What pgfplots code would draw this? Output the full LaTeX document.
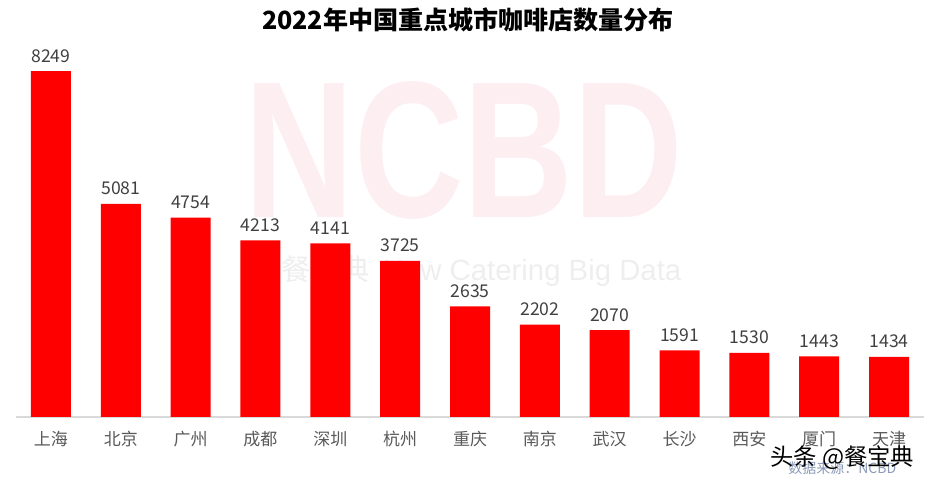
\documentclass[border=0pt]{standalone}
\usepackage{fontspec}
\setmainfont{Noto Sans CJK SC}
\newfontfamily\latinsans{Liberation Sans}
\usepackage{pgfplots}
\pgfplotsset{compat=1.18}
\definecolor{barred}{HTML}{FF0000}
\definecolor{wmpink}{HTML}{FDEEF2}
\definecolor{wmgray}{HTML}{EEEEEE}
\definecolor{ticklab}{HTML}{595959}
\definecolor{vallab}{HTML}{404040}
\definecolor{axline}{HTML}{D9D9D9}
\definecolor{srcblue}{HTML}{8A9AB8}
\begin{document}
\begin{tikzpicture}[x=0.75pt,y=0.75pt]
\useasboundingbox (0,0) rectangle (933,484);
% watermark
\node[anchor=center,inner sep=0pt,text=wmpink,xscale=0.78] at (464,334)
  {\fontsize{146pt}{146pt}\selectfont\latinsans\bfseries NCBD};
\node[anchor=west,inner sep=0pt,text=wmgray] at (252,213)
  {\fontsize{22pt}{22pt}\selectfont 新餐宝典\hspace{10pt}{\latinsans New Catering Big Data}};
\begin{axis}[
  at={(12pt,50.25pt)}, anchor=south west,
  scale only axis,
  width=681pt, height=283.1pt,
  xmin=-0.5, xmax=12.5,
  ymin=0, ymax=9000,
  axis x line*=bottom,
  axis y line=none,
  x axis line style={draw=axline, line width=1.2pt, -},
  xtick=data,
  xticklabels={上海,北京,广州,成都,深圳,杭州,重庆,南京,武汉,长沙,西安,厦门,天津},
  xtick style={draw=none},
  xticklabel style={text=ticklab, font=\fontsize{12.75pt}{12.75pt}\selectfont, yshift=-3pt},
  ybar, bar width=30pt,
  clip=false,
  nodes near coords,
  nodes near coords style={text=vallab, font=\fontsize{13.2pt}{13.2pt}\selectfont, yshift=3pt},
  /pgf/number format/assume math mode=true,
  /pgf/number format/1000 sep={},
]
\addplot[fill=barred, draw=none] coordinates {
(0,8249) (1,5081) (2,4754) (3,4213) (4,4141) (5,3725) (6,2635)
(7,2202) (8,2070) (9,1591) (10,1530) (11,1443) (12,1434)};
\end{axis}
\node[anchor=center,inner sep=0pt] at (468,464)
  {\fontsize{18.8pt}{18.8pt}\selectfont\bfseries 2022年中国重点城市咖啡店数量分布};
\node[anchor=west,inner sep=0pt,text=srcblue] at (788,16)
  {\fontsize{10.5pt}{10.5pt}\selectfont 数据来源：NCBD};
\node[anchor=west,inner sep=0pt,text=black] at (770,26)
  {\fontsize{17.5pt}{17.5pt}\selectfont 头条 @餐宝典};
\end{tikzpicture}
\end{document}
